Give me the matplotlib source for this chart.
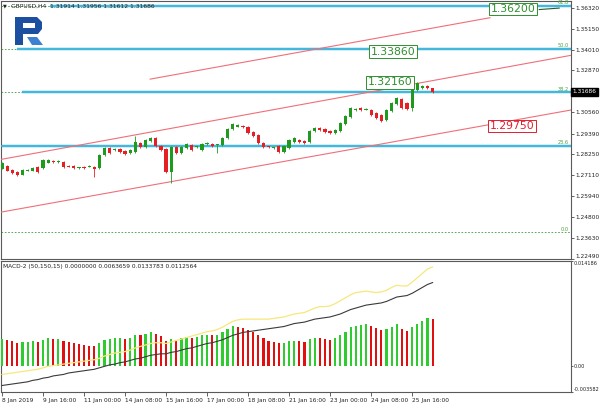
import matplotlib
matplotlib.use('Agg')
from matplotlib import pyplot as plt
from matplotlib.patches import Polygon, Rectangle

plt.rcParams['font.family'] = ['DejaVu Sans']

# ---- GBPUSD H4 candles ----
opens = [1.2746, 1.2762, 1.2740, 1.2729, 1.2713, 1.2735, 1.2735, 1.2757, 1.2751, 1.2779,
         1.2790, 1.2784, 1.2784, 1.2762, 1.2762, 1.2751, 1.2757, 1.2757, 1.2757, 1.2751,
         1.2822, 1.2861, 1.2850, 1.2855, 1.2844, 1.2833, 1.2839, 1.2888, 1.2866, 1.2899,
         1.2915, 1.2872, 1.2855, 1.2729, 1.2866, 1.2833, 1.2861, 1.2877, 1.2864, 1.2850,
         1.2883, 1.2883, 1.2874, 1.2877, 1.2915, 1.2965, 1.2978, 1.2981, 1.2976, 1.2948,
         1.2932, 1.2888, 1.2869, 1.2858, 1.2872, 1.2839, 1.2861, 1.2894, 1.2904, 1.2899,
         1.2894, 1.2954, 1.2970, 1.2965, 1.2954, 1.2943, 1.2954, 1.2992, 1.3030, 1.3069,
         1.3080, 1.3071, 1.3069, 1.3052, 1.3041, 1.3014, 1.3063, 1.3101, 1.3129, 1.3107,
         1.3080, 1.3178, 1.3189, 1.3200, 1.3189]
closes = [1.2779, 1.2735, 1.2724, 1.2713, 1.2740, 1.2740, 1.2751, 1.2729, 1.2795, 1.2795,
          1.2784, 1.2787, 1.2757, 1.2757, 1.2751, 1.2754, 1.2751, 1.2760, 1.2746, 1.2822,
          1.2861, 1.2833, 1.2855, 1.2839, 1.2828, 1.2850, 1.2894, 1.2866, 1.2904, 1.2915,
          1.2872, 1.2850, 1.2729, 1.2866, 1.2833, 1.2866, 1.2883, 1.2850, 1.2869, 1.2883,
          1.2888, 1.2872, 1.2880, 1.2915, 1.2965, 1.2992, 1.2984, 1.2976, 1.2943, 1.2926,
          1.2888, 1.2866, 1.2864, 1.2864, 1.2839, 1.2872, 1.2904, 1.2915, 1.2894, 1.2888,
          1.2954, 1.2970, 1.2959, 1.2948, 1.2943, 1.2959, 1.2997, 1.3036, 1.3080, 1.3074,
          1.3069, 1.3077, 1.3041, 1.3025, 1.3008, 1.3069, 1.3107, 1.3134, 1.3080, 1.3074,
          1.3200, 1.3216, 1.3200, 1.3189, 1.3167]
highs = [1.2785, 1.2766, 1.2744, 1.2732, 1.2744, 1.2745, 1.2756, 1.2760, 1.2799, 1.2800,
         1.2794, 1.2792, 1.2788, 1.2766, 1.2765, 1.2758, 1.2760, 1.2764, 1.2760, 1.2826,
         1.2866, 1.2864, 1.2860, 1.2858, 1.2848, 1.2854, 1.2926, 1.2892, 1.2908, 1.2920,
         1.2918, 1.2876, 1.2858, 1.2870, 1.2870, 1.2870, 1.2888, 1.2881, 1.2873, 1.2887,
         1.2893, 1.2887, 1.2884, 1.2919, 1.2970, 1.2997, 1.2990, 1.2985, 1.2980, 1.2951,
         1.2935, 1.2892, 1.2873, 1.2868, 1.2876, 1.2876, 1.2908, 1.2920, 1.2908, 1.2903,
         1.2958, 1.2975, 1.2974, 1.2968, 1.2958, 1.2963, 1.3001, 1.3040, 1.3085, 1.3079,
         1.3084, 1.3081, 1.3073, 1.3056, 1.3045, 1.3073, 1.3112, 1.3140, 1.3136, 1.3111,
         1.3205, 1.3222, 1.3205, 1.3204, 1.3192]
lows = [1.2742, 1.2731, 1.2719, 1.2708, 1.2709, 1.2731, 1.2731, 1.2725, 1.2747, 1.2775,
        1.2780, 1.2780, 1.2752, 1.2753, 1.2747, 1.2747, 1.2747, 1.2753, 1.2702, 1.2746,
        1.2817, 1.2828, 1.2845, 1.2835, 1.2823, 1.2829, 1.2835, 1.2861, 1.2861, 1.2895,
        1.2868, 1.2845, 1.2724, 1.2669, 1.2829, 1.2829, 1.2857, 1.2845, 1.2860, 1.2846,
        1.2879, 1.2868, 1.2833, 1.2873, 1.2911, 1.2961, 1.2974, 1.2972, 1.2939, 1.2922,
        1.2884, 1.2862, 1.2860, 1.2854, 1.2835, 1.2835, 1.2857, 1.2890, 1.2890, 1.2884,
        1.2890, 1.2950, 1.2955, 1.2944, 1.2939, 1.2939, 1.2950, 1.2988, 1.3026, 1.3065,
        1.3065, 1.3067, 1.3037, 1.3021, 1.3004, 1.3010, 1.3059, 1.3097, 1.3076, 1.3070,
        1.3063, 1.3174, 1.3185, 1.3185, 1.3163]

# ---- MACD-2 (50,150,15) ----
macd_hist = [0.0036, 0.0035, 0.0033, 0.0031, 0.0032, 0.0032, 0.0033, 0.0032, 0.0035, 0.0037,
             0.0036, 0.0036, 0.0034, 0.0032, 0.0030, 0.0029, 0.0028, 0.0027, 0.0026, 0.0030,
             0.0035, 0.0036, 0.0037, 0.0037, 0.0036, 0.0037, 0.0042, 0.0041, 0.0043, 0.0045,
             0.0043, 0.0040, 0.0033, 0.0036, 0.0035, 0.0037, 0.0039, 0.0038, 0.0039, 0.0041,
             0.0042, 0.0041, 0.0042, 0.0045, 0.0050, 0.0054, 0.0053, 0.0051, 0.0048, 0.0045,
             0.0041, 0.0037, 0.0034, 0.0032, 0.0030, 0.0031, 0.0033, 0.0034, 0.0033, 0.0032,
             0.0036, 0.0038, 0.0037, 0.0036, 0.0035, 0.0037, 0.0041, 0.0046, 0.0052, 0.0054,
             0.0055, 0.0056, 0.0054, 0.0051, 0.0048, 0.0050, 0.0053, 0.0056, 0.0049, 0.0047,
             0.0052, 0.0057, 0.0060, 0.0064, 0.00637]
macd_main = [-0.0027, -0.0026, -0.0025, -0.0024, -0.0023, -0.0022, -0.0020, -0.0019, -0.0017, -0.0016,
             -0.0014, -0.0013, -0.0012, -0.0010, -0.0009, -0.0008, -0.0007, -0.0006, -0.0005, -0.0003,
             -0.0001, 0.0001, 0.0002, 0.0004, 0.0005, 0.0007, 0.0009, 0.0010, 0.0012, 0.0014,
             0.0015, 0.0016, 0.0016, 0.0018, 0.0019, 0.0021, 0.0023, 0.0024, 0.0026, 0.0028,
             0.0030, 0.0031, 0.0033, 0.0035, 0.0038, 0.0041, 0.0043, 0.0045, 0.0046, 0.0047,
             0.0048, 0.0049, 0.0050, 0.0051, 0.0052, 0.0053, 0.0055, 0.0057, 0.0058, 0.0059,
             0.0061, 0.0063, 0.0064, 0.0065, 0.0066, 0.0068, 0.0070, 0.0073, 0.0076, 0.0078,
             0.0080, 0.0082, 0.0083, 0.0084, 0.0085, 0.0087, 0.0090, 0.0093, 0.0094, 0.0095,
             0.0098, 0.0102, 0.0106, 0.0110, 0.01126]
macd_signal = [-0.0012, -0.0011, -0.0010, -0.0009, -0.0008, -0.0007, -0.0006, -0.0005, -0.0003, -0.0001,
               0.0000, 0.0001, 0.0002, 0.0003, 0.0004, 0.0005, 0.0006, 0.0007, 0.0008, 0.0010,
               0.0013, 0.0015, 0.0017, 0.0018, 0.0019, 0.0021, 0.0024, 0.0026, 0.0028, 0.0030,
               0.0031, 0.0031, 0.0030, 0.0032, 0.0034, 0.0036, 0.0038, 0.0040, 0.0042, 0.0044,
               0.0046, 0.0047, 0.0049, 0.0052, 0.0056, 0.0060, 0.0062, 0.0063, 0.0063, 0.0063,
               0.0063, 0.0063, 0.0063, 0.0064, 0.0065, 0.0066, 0.0068, 0.0070, 0.0071, 0.0072,
               0.0075, 0.0078, 0.0080, 0.0080, 0.0081, 0.0084, 0.0088, 0.0092, 0.0096, 0.0099,
               0.0100, 0.0101, 0.0100, 0.0099, 0.0100, 0.0102, 0.0106, 0.0109, 0.0108, 0.0108,
               0.0113, 0.0119, 0.0125, 0.0131, 0.01338]

time_labels = ['8 Jan 2019', '9 Jan 16:00', '11 Jan 00:00', '14 Jan 08:00', '15 Jan 16:00',
               '17 Jan 00:00', '18 Jan 08:00', '21 Jan 16:00', '23 Jan 00:00', '24 Jan 08:00',
               '25 Jan 16:00']
time_label_bars = [0, 8, 16, 24, 32, 40, 48, 56, 64, 72, 80]
price_ticks = [1.36320, 1.35150, 1.34010, 1.32870, 1.30560, 1.29390, 1.28250,
               1.27110, 1.25940, 1.24800, 1.23630, 1.22490]
last_price = 1.31686
macd_ticks = [0.014186, 0.0, -0.003582]
macd_tick_labels = ['0.014186', '0.00', '-0.003582']

# fibo retracement
fib_low, fib_high = 1.2396, 1.4414
fib_levels = [0.0, 23.6, 38.2, 50.0, 61.8]
fib_line_start = [None, -0.4, 3.9, 2.9, 9.4]   # where the cyan level lines begin (bar index)

# channel lines: (bar0, price0, bar1, price1)
channel = [(-0.4, 1.2796, 111.0, 1.3370),
           (-0.4, 1.2506, 111.0, 1.3069),
           (28.9, 1.3239, 95.2, 1.3577)]
# level boxes: (text, bar, price, colour)
level_boxes = [('1.36200', 99.7, 1.3625, '#2f8f2f'),
               ('1.33860', 76.3, 1.3391, '#2f8f2f'),
               ('1.32160', 75.7, 1.3222, '#2f8f2f'),
               ('1.29750', 99.5, 1.2981, '#e02030')]

W, H = 600, 407
def px_box(l, t, r, b):
    return [l / W, 1 - b / H, (r - l) / W, (b - t) / H]

fig = plt.figure(figsize=(6, 4.07), dpi=100)
fig.patch.set_facecolor('white')
ax = fig.add_axes(px_box(1, 1, 571, 259))
ax2 = fig.add_axes(px_box(1, 261, 571, 392))
x_lim = (-0.2, 111.0)

up_col, dn_col = '#1f9a1f', '#e42025'
n = len(opens)
idx = list(range(n))
for i in idx:
    c = up_col if closes[i] >= opens[i] else dn_col
    ax.vlines(i, lows[i], highs[i], color=c, lw=0.6, zorder=4)
    lo, hi = min(opens[i], closes[i]), max(opens[i], closes[i])
    ax.bar(i, max(hi - lo, 0.00012), bottom=lo, width=0.62, color=c, lw=0, zorder=5)

# fibo dotted lines and cyan level lines
for lev, st in zip(fib_levels, fib_line_start):
    p = fib_low + (fib_high - fib_low) * lev / 100
    ax.axhline(p, color='#3b9b3b', lw=0.6, ls=(0, (2, 2)), zorder=2)
    ax.text(110.5, p + 0.0004, '%.1f' % lev, color='#4aa03a', fontsize=3.6, ha='right', va='bottom', zorder=6)
    if st is not None:
        ax.plot([st, x_lim[1]], [p, p], color='#c6ebf6', lw=2.6, zorder=2.5, solid_capstyle='butt')
        ax.plot([st, x_lim[1]], [p, p], color='#36b3da', lw=1.3, zorder=2.6, solid_capstyle='butt')

for b0, p0, b1, p1 in channel:
    ax.plot([b0, b1], [p0, p1], color='#ef6f78', lw=0.8, zorder=3)
ax.plot([104.8, 108.7], [1.3622, 1.3630], color='#2a5a2a', lw=0.8, zorder=3)

for txt, b, p, col in level_boxes:
    ax.text(b, p, txt, color=col, fontsize=7.8, ha='center', va='center', zorder=8,
            bbox=dict(boxstyle='square,pad=0.12', fc='white', ec=col, lw=0.7))

ax.set_xlim(*x_lim)
ax.set_ylim(1.2251, 1.3669)
ax.set_xticks([])
ax.yaxis.tick_right()
ax.set_yticks(price_ticks)
ax.set_yticklabels(['%.5f' % t for t in price_ticks])
ax.tick_params(axis='y', labelsize=4.2, length=2, width=0.5, pad=1.2, colors='#222222')
ax.get_yticklabels()[-1].set_va('bottom')
ax.text(1.003, last_price, '%.5f' % last_price, transform=ax.get_yaxis_transform(), color='white',
        fontsize=4.2, ha='left', va='center', zorder=9,
        bbox=dict(boxstyle='square,pad=0.25', fc='black', ec='black'))

# MACD pane
prev = None
for i in idx:
    v = macd_hist[i]
    c = '#2ecc2e' if (prev is None or v >= prev) else '#e01010'
    ax2.bar(i, v, width=0.42, color=c, lw=0, zorder=3)
    prev = v
ax2.plot(idx, macd_signal, color='#f7e77c', lw=0.9, zorder=4)
ax2.plot(idx, macd_main, color='#3a3a3a', lw=0.8, zorder=4)
ax2.set_xlim(*x_lim)
ax2.set_ylim(-0.003582, 0.014186)
ax2.yaxis.tick_right()
ax2.set_yticks(macd_ticks)
ax2.set_yticklabels(macd_tick_labels)
ax2.tick_params(axis='y', labelsize=3.6, length=1.5, width=0.5, pad=0.6, colors='#222222')
ylabs = ax2.get_yticklabels()
ylabs[0].set_va('top')
ylabs[2].set_va('bottom')
ax2.set_xticks(time_label_bars)
ax2.set_xticklabels(time_labels)
ax2.tick_params(axis='x', labelsize=4.2, length=3, width=0.5, pad=1.5, colors='#222222')
for t in ax2.get_xticklabels():
    t.set_ha('left')
ax2.text(0.004, 0.975, 'MACD-2 (50,150,15) 0.0000000 0.0063659 0.0133783 0.0112564',
         transform=ax2.transAxes, fontsize=4.2, ha='left', va='top', color='#222222')

for a in (ax, ax2):
    for s in a.spines.values():
        s.set_color('#5a5a5a')
        s.set_linewidth(0.8)

# overlay: header text and logo, in pixel coordinates
ov = fig.add_axes([0, 0, 1, 1], zorder=10)
ov.set_xlim(0, W)
ov.set_ylim(H, 0)
ov.axis('off')
ov.patch.set_alpha(0)
ov.text(3, 6, '\u25bc', fontsize=3.5, ha='left', va='center', color='#222222')
ov.text(11, 6, 'GBPUSD,H4  1.31914 1.31956 1.31612 1.31686', fontsize=4.3, ha='left',
        va='center', color='#222222')
ov.add_patch(Rectangle((15, 17), 8, 28, fc='#1d4fa0', ec='none'))
ov.add_patch(Polygon([(15, 17), (37, 17), (42, 22), (42, 29), (38, 34), (23, 34), (23, 28),
                      (35, 28), (35, 23), (15, 23)], closed=True, fc='#1d4fa0', ec='none'))
ov.add_patch(Polygon([(27, 37), (37, 37), (43, 45), (32, 45)], closed=True, fc='#3e80d2', ec='none'))

fig.savefig('out.png', dpi=100)
